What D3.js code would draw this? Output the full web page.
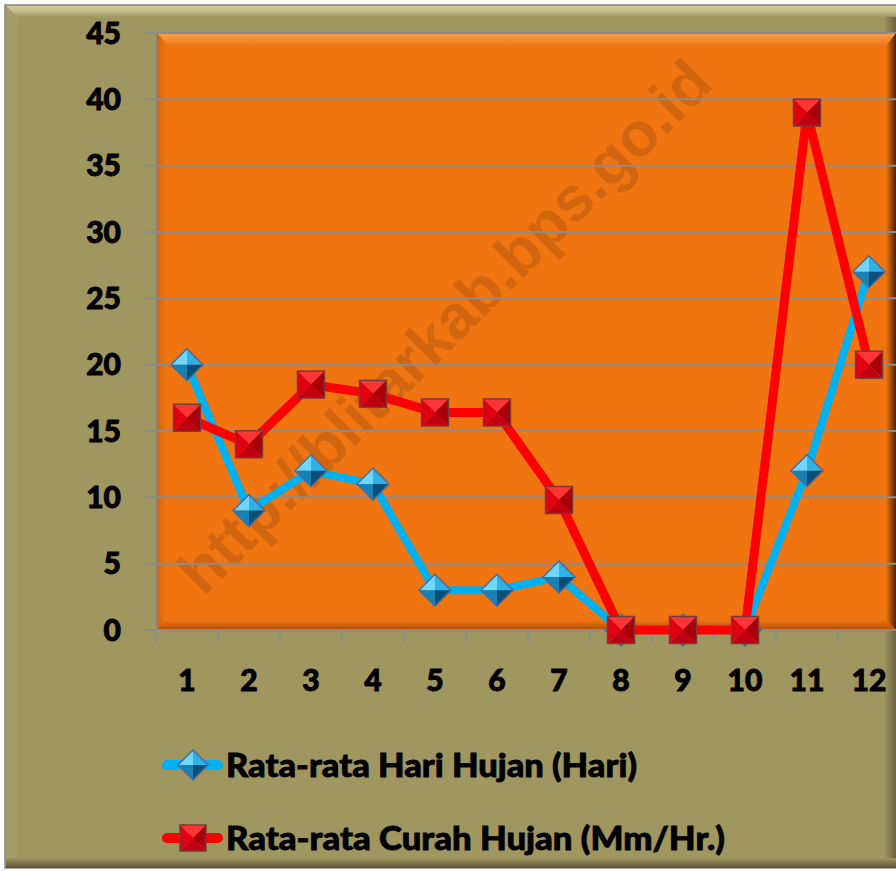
<!DOCTYPE html>
<html><head><meta charset="utf-8">
<script src="https://cdn.jsdelivr.net/npm/d3@7"></script>
<style>html,body{margin:0;padding:0;background:#fff}svg{display:block}</style>
</head><body>
<script>
const categories = ["1","2","3","4","5","6","7","8","9","10","11","12"];
const hariHujan = [20, 9, 12, 11, 3, 3, 4, 0, 0, 0, 12, 27];
const curahHujan = [16, 14, 18.5, 17.8, 16.4, 16.4, 9.8, 0, 0, 0, 39, 20];
const yTicks = [0, 5, 10, 15, 20, 25, 30, 35, 40, 45];
const seriesNames = ["Rata-rata Hari Hujan (Hari)", "Rata-rata Curah Hujan (Mm/Hr.)"];
const watermark = "http://blitarkab.bps.go.id";

const W = 896, H = 871;
const svg = d3.select("body").append("svg").attr("width", W).attr("height", H);
const defs = svg.append("defs");
function lg(id, x1, y1, x2, y2, stops) {
  const g = defs.append("linearGradient").attr("id", id)
    .attr("x1", x1).attr("y1", y1).attr("x2", x2).attr("y2", y2);
  stops.forEach(s => g.append("stop").attr("offset", s[0]).attr("stop-color", s[1]).attr("stop-opacity", s[2] == null ? 1 : s[2]));
}
lg("topBevel", 0, 0, 0, 1, [[0, "#d6cf9c"], [0.5, "#c2b985"], [1, "#a09660"]]);
lg("botBevel", 0, 0, 0, 1, [[0, "#a09660"], [1, "#5c5535"]]);
lg("rightBevel", 0, 0, 1, 0, [[0, "#a09660"], [1, "#6a6240"]]);
lg("plotTop", 0, 0, 0, 1, [[0, "#f9a04a"], [0.5, "#f58d30"], [1, "#f07410"]]);
lg("plotRight", 0, 0, 1, 0, [[0, "#f07410"], [0.5, "#a04a05"], [1, "#4a2200"]]);
lg("plotBot", 0, 0, 0, 1, [[0, "#f07410"], [1, "#b05008"]]);
lg("plotLeft", 0, 0, 1, 0, [[0, "#b85a0a"], [1, "#f07410"]]);

// outer frame
svg.append("rect").attr("x", 5).attr("y", 5).attr("width", W - 5).attr("height", 863)
  .attr("fill", "#a09660").attr("stroke", "#8a8a8a").attr("stroke-width", 1.5);
svg.append("polygon").attr("points", `6,6 ${W},6 ${W},17 17,17`).attr("fill", "url(#topBevel)");
svg.append("polygon").attr("points", `6,6 17,17 17,858 6,867`).attr("fill", "#a59c68");
svg.append("rect").attr("x", 884).attr("y", 17).attr("width", 12).attr("height", 850).attr("fill", "url(#rightBevel)");
svg.append("rect").attr("x", 6).attr("y", 858).attr("width", W).attr("height", 10).attr("fill", "url(#botBevel)");

const plot = {left: 156, top: 33, right: 900, bottom: 630};
const x = d3.scaleBand().domain(categories).range([plot.left, plot.right]);
const y = d3.scaleLinear().domain([0, 45]).range([plot.bottom, plot.top]);

// plot area background with bevels
svg.append("rect").attr("x", plot.left + 1).attr("y", y(45)).attr("width", W - plot.left).attr("height", y(0) - y(45)).attr("fill", "#f07410");
svg.append("polygon").attr("points", `${plot.left+1},${y(45)} ${W},${y(45)} ${W-10},${y(45)+13} ${plot.left+12},${y(45)+13}`).attr("fill", "url(#plotTop)");
svg.append("polygon").attr("points", `${plot.left+1},${y(45)} ${plot.left+10},${y(45)+10} ${plot.left+10},${y(0)-10} ${plot.left+1},${y(0)}`).attr("fill", "url(#plotLeft)").attr("opacity", 0.6);
svg.append("polygon").attr("points", `${W-10},${y(45)+13} ${W},${y(45)} ${W},${y(0)} ${W-10},${y(0)-10}`).attr("fill", "url(#plotRight)");
svg.append("polygon").attr("points", `${plot.left+10},${y(0)-10} ${W-10},${y(0)-10} ${W},${y(0)} ${plot.left+1},${y(0)}`).attr("fill", "url(#plotBot)");

// watermark
svg.append("text").text(watermark)
  .attr("transform", "translate(448,330) rotate(-45)")
  .attr("text-anchor", "middle").attr("dominant-baseline", "middle")
  .attr("font-family", "Liberation Sans, Arial, sans-serif").attr("font-weight", "bold")
  .attr("font-size", 62).attr("fill", "#9a4a10").attr("fill-opacity", 0.36);

// gridlines
svg.append("g").selectAll("line").data(yTicks).join("line")
  .attr("x1", plot.left - 11).attr("x2", W).attr("y1", d => y(d)).attr("y2", d => y(d))
  .attr("stroke", "#8c8c8c").attr("stroke-width", 2);
// axes lines
svg.append("line").attr("x1", plot.left).attr("x2", plot.left).attr("y1", y(45)).attr("y2", y(0) + 11)
  .attr("stroke", "#8c8c8c").attr("stroke-width", 2);
svg.append("g").selectAll("line").data(categories.concat(["end"])).join("line")
  .attr("x1", (d, i) => plot.left + i * x.bandwidth()).attr("x2", (d, i) => plot.left + i * x.bandwidth())
  .attr("y1", y(0)).attr("y2", y(0) + 11).attr("stroke", "#8c8c8c").attr("stroke-width", 2);

// tick labels
const fontFam = "Lato, 'Open Sans', sans-serif";
svg.append("g").selectAll("text").data(yTicks).join("text")
  .attr("x", 121).attr("y", d => y(d)).attr("dy", "0.36em").attr("text-anchor", "end")
  .attr("font-family", fontFam).attr("font-weight", 900).attr("font-size", 30).attr("fill", "#000")
  .attr("stroke", "#000").attr("stroke-width", 0.9)
  .text(d => d);
svg.append("g").selectAll("text").data(categories).join("text")
  .attr("x", d => x(d) + x.bandwidth() / 2).attr("y", 680).attr("dy", "0.36em").attr("text-anchor", "middle")
  .attr("font-family", fontFam).attr("font-weight", 900).attr("font-size", 30).attr("fill", "#000")
  .attr("stroke", "#000").attr("stroke-width", 0.9)
  .text(d => d);

const cx = (d, i) => x(categories[i]) + x.bandwidth() / 2;
const line = d3.line().x((d, i) => cx(d, i)).y(d => y(d));

function diamond(g, px, py, s) {
  const t = [px, py - s], r = [px + s, py], b = [px, py + s], l = [px - s, py], c = [px, py];
  const f = [[l, t, c, "#6fd8fa"], [t, r, c, "#2fb0e6"], [r, b, c, "#0a4f78"], [b, l, c, "#1780b5"]];
  f.forEach(q => g.append("polygon").attr("points", q.slice(0, 3).map(p => p.join(",")).join(" ")).attr("fill", q[3]));
  g.append("polygon").attr("points", [t, r, b, l].map(p => p.join(",")).join(" "))
    .attr("fill", "none").attr("stroke", "#4b6d98").attr("stroke-width", 1.5);
}
function square(g, px, py, s) {
  const tl = [px - s, py - s], tr = [px + s, py - s], br = [px + s, py + s], bl = [px - s, py + s], c = [px, py];
  const f = [[tl, tr, c, "#ff3535"], [tr, br, c, "#a8000a"], [br, bl, c, "#c00010"], [bl, tl, c, "#e00010"]];
  f.forEach(q => g.append("polygon").attr("points", q.slice(0, 3).map(p => p.join(",")).join(" ")).attr("fill", q[3]));
  g.append("rect").attr("x", px - s).attr("y", py - s).attr("width", 2 * s).attr("height", 2 * s)
    .attr("fill", "none").attr("stroke", "#7a3a3a").attr("stroke-width", 1.5);
}

// series lines
svg.append("path").datum(hariHujan).attr("d", line).attr("fill", "none")
  .attr("stroke", "#00b0f0").attr("stroke-width", 8).attr("stroke-linejoin", "round");
const gB = svg.append("g");
hariHujan.forEach((d, i) => diamond(gB, cx(d, i), y(d), 16));
svg.append("path").datum(curahHujan).attr("d", line).attr("fill", "none")
  .attr("stroke", "#ff0000").attr("stroke-width", 9).attr("stroke-linejoin", "round");
const gR = svg.append("g");
curahHujan.forEach((d, i) => square(gR, cx(d, i), y(d), 13.5));

// legend
const legY = [765, 838];
const legLen = [411, 499];
const lgG = svg.append("g");
lgG.append("line").attr("x1", 167).attr("x2", 218).attr("y1", legY[0]).attr("y2", legY[0])
  .attr("stroke", "#00b0f0").attr("stroke-width", 10).attr("stroke-linecap", "round");
diamond(lgG, 193, legY[0], 15);
lgG.append("line").attr("x1", 167).attr("x2", 218).attr("y1", legY[1]).attr("y2", legY[1])
  .attr("stroke", "#ff0000").attr("stroke-width", 10).attr("stroke-linecap", "round");
square(lgG, 193, legY[1], 13);
lgG.selectAll("text").data(seriesNames).join("text")
  .attr("x", 226).attr("y", (d, i) => legY[i]).attr("dy", "0.36em")
  .attr("font-family", fontFam).attr("font-weight", 900).attr("font-size", 32).attr("fill", "#000")
  .attr("stroke", "#000").attr("stroke-width", 0.8)
  .attr("textLength", (d, i) => legLen[i]).attr("lengthAdjust", "spacingAndGlyphs")
  .text(d => d);
</script>
</body></html>
